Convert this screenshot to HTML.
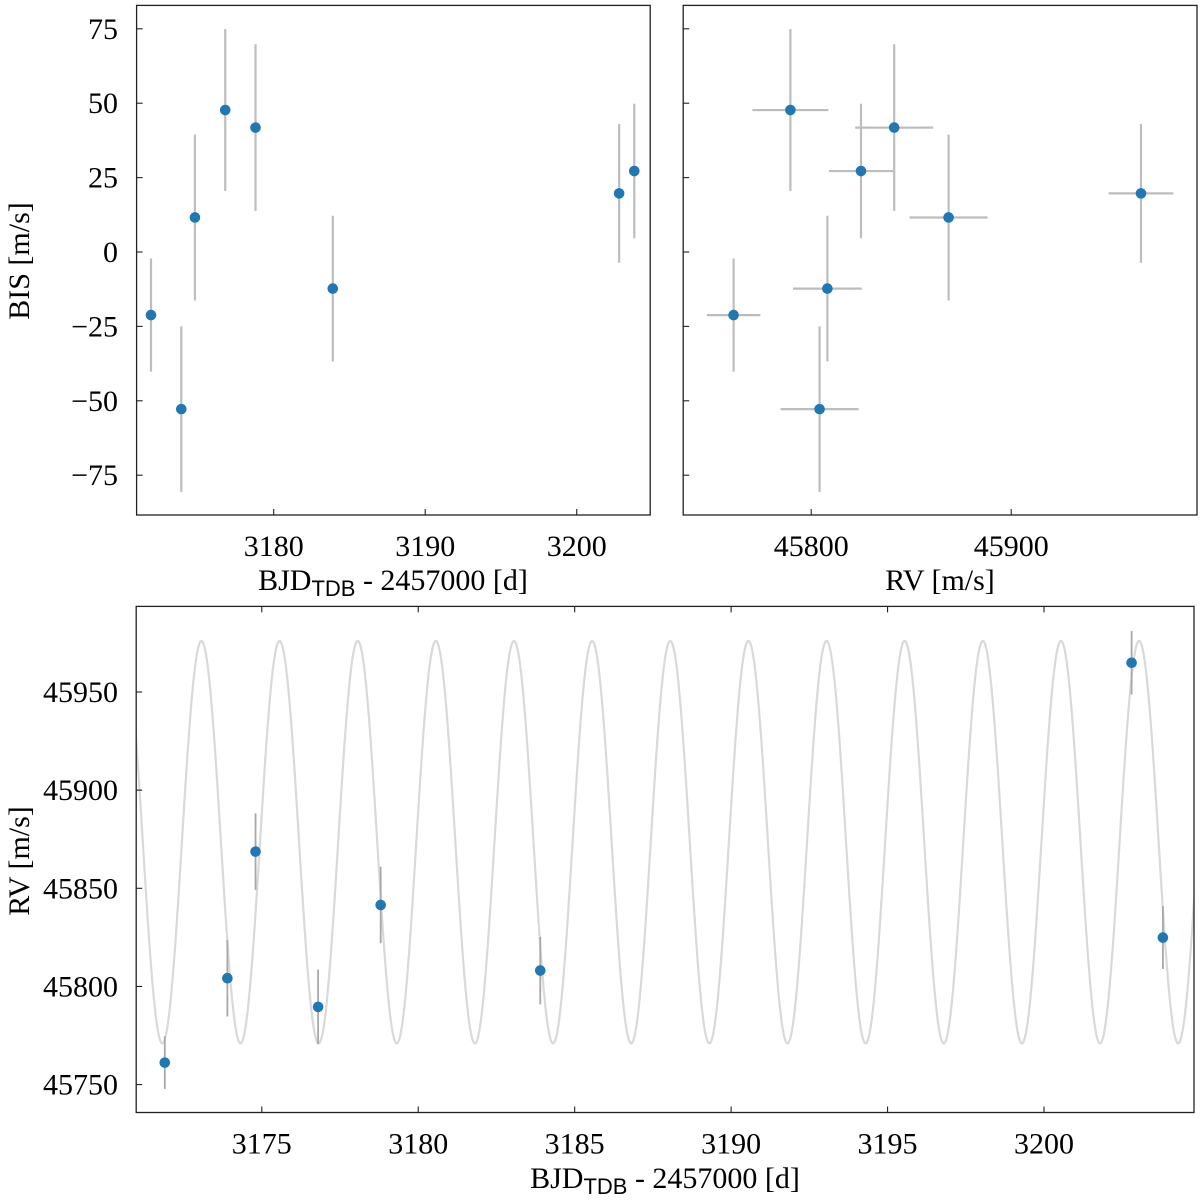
<!DOCTYPE html>
<html><head><meta charset="utf-8"><style>
body{margin:0;background:#fff;}
svg text{font-family:"Liberation Serif",serif;fill:#000;}
</style></head><body>
<svg id="chart" width="1200" height="1198" viewBox="0 0 1200 1198" xmlns="http://www.w3.org/2000/svg"></svg>
<script>
const times = [3171.9, 3173.9, 3174.8, 3176.8, 3178.8, 3183.9, 3202.8, 3203.8];
const bis = [-21.2, -52.8, 11.6, 47.7, 41.8, -12.3, 19.7, 27.2];
const bisErr = [19, 27.8, 27.9, 27.2, 28, 24.5, 23.3, 22.6];
const rv = [45761.2, 45804.2, 45868.7, 45789.6, 45841.5, 45808.1, 45964.9, 45824.9];
const rvErr = [13.4, 19.5, 19.5, 19, 19.5, 17.2, 16.2, 16];
const timeTicks = [3180, 3190, 3200];
const bisTicks = [75, 50, 25, 0, -25, -50, -75];
const rvTicksTop = [45800, 45900];
const timeTicksBottom = [3175, 3180, 3185, 3190, 3195, 3200];
const rvTicksBottom = [45750, 45800, 45850, 45900, 45950];
const modelParams = {center: 45873.5, amp: 102.5, period: 2.4975, tPeak: 3173.07};

const FS = 30;
const NS = "http://www.w3.org/2000/svg";
const svg = document.getElementById('chart');
function el(tag, attrs, parent){ const e=document.createElementNS(NS,tag); for(const k in attrs) e.setAttribute(k,attrs[k]); (parent||svg).appendChild(e); return e; }
function lin(d0,d1,r0,r1){ return v=>r0+(v-d0)/(d1-d0)*(r1-r0); }

const P1={x0:136.6,x1:650.2,y0:5.4,y1:515};
const P2={x0:683.2,x1:1197,y0:5.4,y1:515};
const P3={x0:136.2,x1:1194,y0:606.4,y1:1112.5};
const tx1 = lin(3170.95,3204.85,P1.x0,P1.x1);
const by = lin(0,75,252,28.8);
const rx2 = lin(45736,45992.9,P2.x0,P2.x1);
const tx3 = lin(3175,3200,261.8,1044);
const ry3 = lin(45750,45950,1084.6,692);

const defs = el('defs',{});
const cp = el('clipPath',{id:'clip3'},defs);
el('rect',{x:P3.x0,y:P3.y0,width:P3.x1-P3.x0,height:P3.y1-P3.y0},cp);

// Panel 1
const g1 = el('g',{});


times.forEach((t,i)=>{
  const l=el('line',{x1:tx1(t),x2:tx1(t),y1:by(bis[i]+bisErr[i]),y2:by(bis[i]-bisErr[i]),stroke:'#bdbdbd','stroke-width':2.2},g1);
  
  
});
times.forEach((t,i)=>{
  const c=el('circle',{cx:tx1(t),cy:by(bis[i]),r:5.3,fill:'#1f77b4'},g1);
  
  
});
el('rect',{x:P1.x0,y:P1.y0,width:P1.x1-P1.x0,height:P1.y1-P1.y0,fill:'none',stroke:'#222','stroke-width':1.3},g1);
timeTicks.forEach(v=>{
  el('line',{x1:tx1(v),x2:tx1(v),y1:P1.y1,y2:P1.y1-6,stroke:'#222','stroke-width':1.1},g1);
  const t=el('text',{x:tx1(v),y:P1.y1+41,'font-size':FS,'text-anchor':'middle'},g1); t.textContent=v;
  
  
});
bisTicks.forEach(v=>{
  el('line',{x1:P1.x0,x2:P1.x0+6,y1:by(v),y2:by(v),stroke:'#222','stroke-width':1.1},g1);
  const t=el('text',{x:118,y:by(v)+10,'font-size':FS,'text-anchor':'end'},g1); t.textContent=v<0?'\u2212'+(-v):v;
  
  
});
let xl=el('text',{x:393,y:590,'font-size':FS,'text-anchor':'middle'},g1);
xl.innerHTML='BJD<tspan font-family="Liberation Sans" font-size="22" dy="6">TDB</tspan><tspan dy="-6"> - 2457000 [d]</tspan>';


let yl=el('text',{x:0,y:0,'font-size':FS,'text-anchor':'middle',transform:'translate(29,261) rotate(-90)'},g1);
yl.textContent='BIS [m/s]';



// Panel 2
const g2 = el('g',{});


rv.forEach((r,i)=>{
  const a=el('line',{x1:rx2(r-rvErr[i]),x2:rx2(r+rvErr[i]),y1:by(bis[i]),y2:by(bis[i]),stroke:'#bdbdbd','stroke-width':2.2},g2);
  
  
  const b=el('line',{x1:rx2(r),x2:rx2(r),y1:by(bis[i]+bisErr[i]),y2:by(bis[i]-bisErr[i]),stroke:'#bdbdbd','stroke-width':2.2},g2);
  
  
});
rv.forEach((r,i)=>{
  const c=el('circle',{cx:rx2(r),cy:by(bis[i]),r:5.3,fill:'#1f77b4'},g2);
  
  
});
el('rect',{x:P2.x0,y:P2.y0,width:P2.x1-P2.x0,height:P2.y1-P2.y0,fill:'none',stroke:'#222','stroke-width':1.3},g2);
rvTicksTop.forEach(v=>{
  el('line',{x1:rx2(v),x2:rx2(v),y1:P2.y1,y2:P2.y1-6,stroke:'#222','stroke-width':1.1},g2);
  const t=el('text',{x:rx2(v),y:P2.y1+41,'font-size':FS,'text-anchor':'middle'},g2); t.textContent=v;
  
  
});
bisTicks.forEach(v=>{
  el('line',{x1:P2.x0,x2:P2.x0+6,y1:by(v),y2:by(v),stroke:'#222','stroke-width':1.1},g2);
});
xl=el('text',{x:940,y:590,'font-size':FS,'text-anchor':'middle'},g2); xl.textContent='RV [m/s]';



// Panel 3
const g3 = el('g',{});


let d='';
const tStart=3170.95, tEnd=3204.85, N=1600;
for(let k=0;k<=N;k++){
  const t=tStart+(tEnd-tStart)*k/N;
  const v=modelParams.center+modelParams.amp*Math.cos(2*Math.PI*(t-modelParams.tPeak)/modelParams.period);
  d+=(k?'L':'M')+tx3(t).toFixed(2)+' '+ry3(v).toFixed(2);
}
const model=el('path',{d:d,fill:'none',stroke:'#d9d9d9','stroke-width':2.2,'clip-path':'url(#clip3)'},g3);


times.forEach((t,i)=>{
  const l=el('line',{x1:tx3(t),x2:tx3(t),y1:ry3(rv[i]+rvErr[i]),y2:ry3(rv[i]-rvErr[i]),stroke:'#a8a8a8','stroke-width':1.8},g3);
  
  
});
times.forEach((t,i)=>{
  const c=el('circle',{cx:tx3(t),cy:ry3(rv[i]),r:5.3,fill:'#1f77b4'},g3);
  
  
});
el('rect',{x:P3.x0,y:P3.y0,width:P3.x1-P3.x0,height:P3.y1-P3.y0,fill:'none',stroke:'#222','stroke-width':1.3},g3);
timeTicksBottom.forEach(v=>{
  el('line',{x1:tx3(v),x2:tx3(v),y1:P3.y1,y2:P3.y1-6,stroke:'#222','stroke-width':1.1},g3);
  el('line',{x1:tx3(v),x2:tx3(v),y1:P3.y0,y2:P3.y0+6,stroke:'#222','stroke-width':1.1},g3);
  const t=el('text',{x:tx3(v),y:P3.y1+41,'font-size':FS,'text-anchor':'middle'},g3); t.textContent=v;
  
  
});
rvTicksBottom.forEach(v=>{
  el('line',{x1:P3.x0,x2:P3.x0+6,y1:ry3(v),y2:ry3(v),stroke:'#222','stroke-width':1.1},g3);
  const t=el('text',{x:118,y:ry3(v)+10,'font-size':FS,'text-anchor':'end'},g3); t.textContent=v;
  
  
});
xl=el('text',{x:665,y:1188,'font-size':FS,'text-anchor':'middle'},g3);
xl.innerHTML='BJD<tspan font-family="Liberation Sans" font-size="22" dy="6">TDB</tspan><tspan dy="-6"> - 2457000 [d]</tspan>';


yl=el('text',{x:0,y:0,'font-size':FS,'text-anchor':'middle',transform:'translate(29,861) rotate(-90)'},g3);
yl.textContent='RV [m/s]';


</script>
</body></html>
